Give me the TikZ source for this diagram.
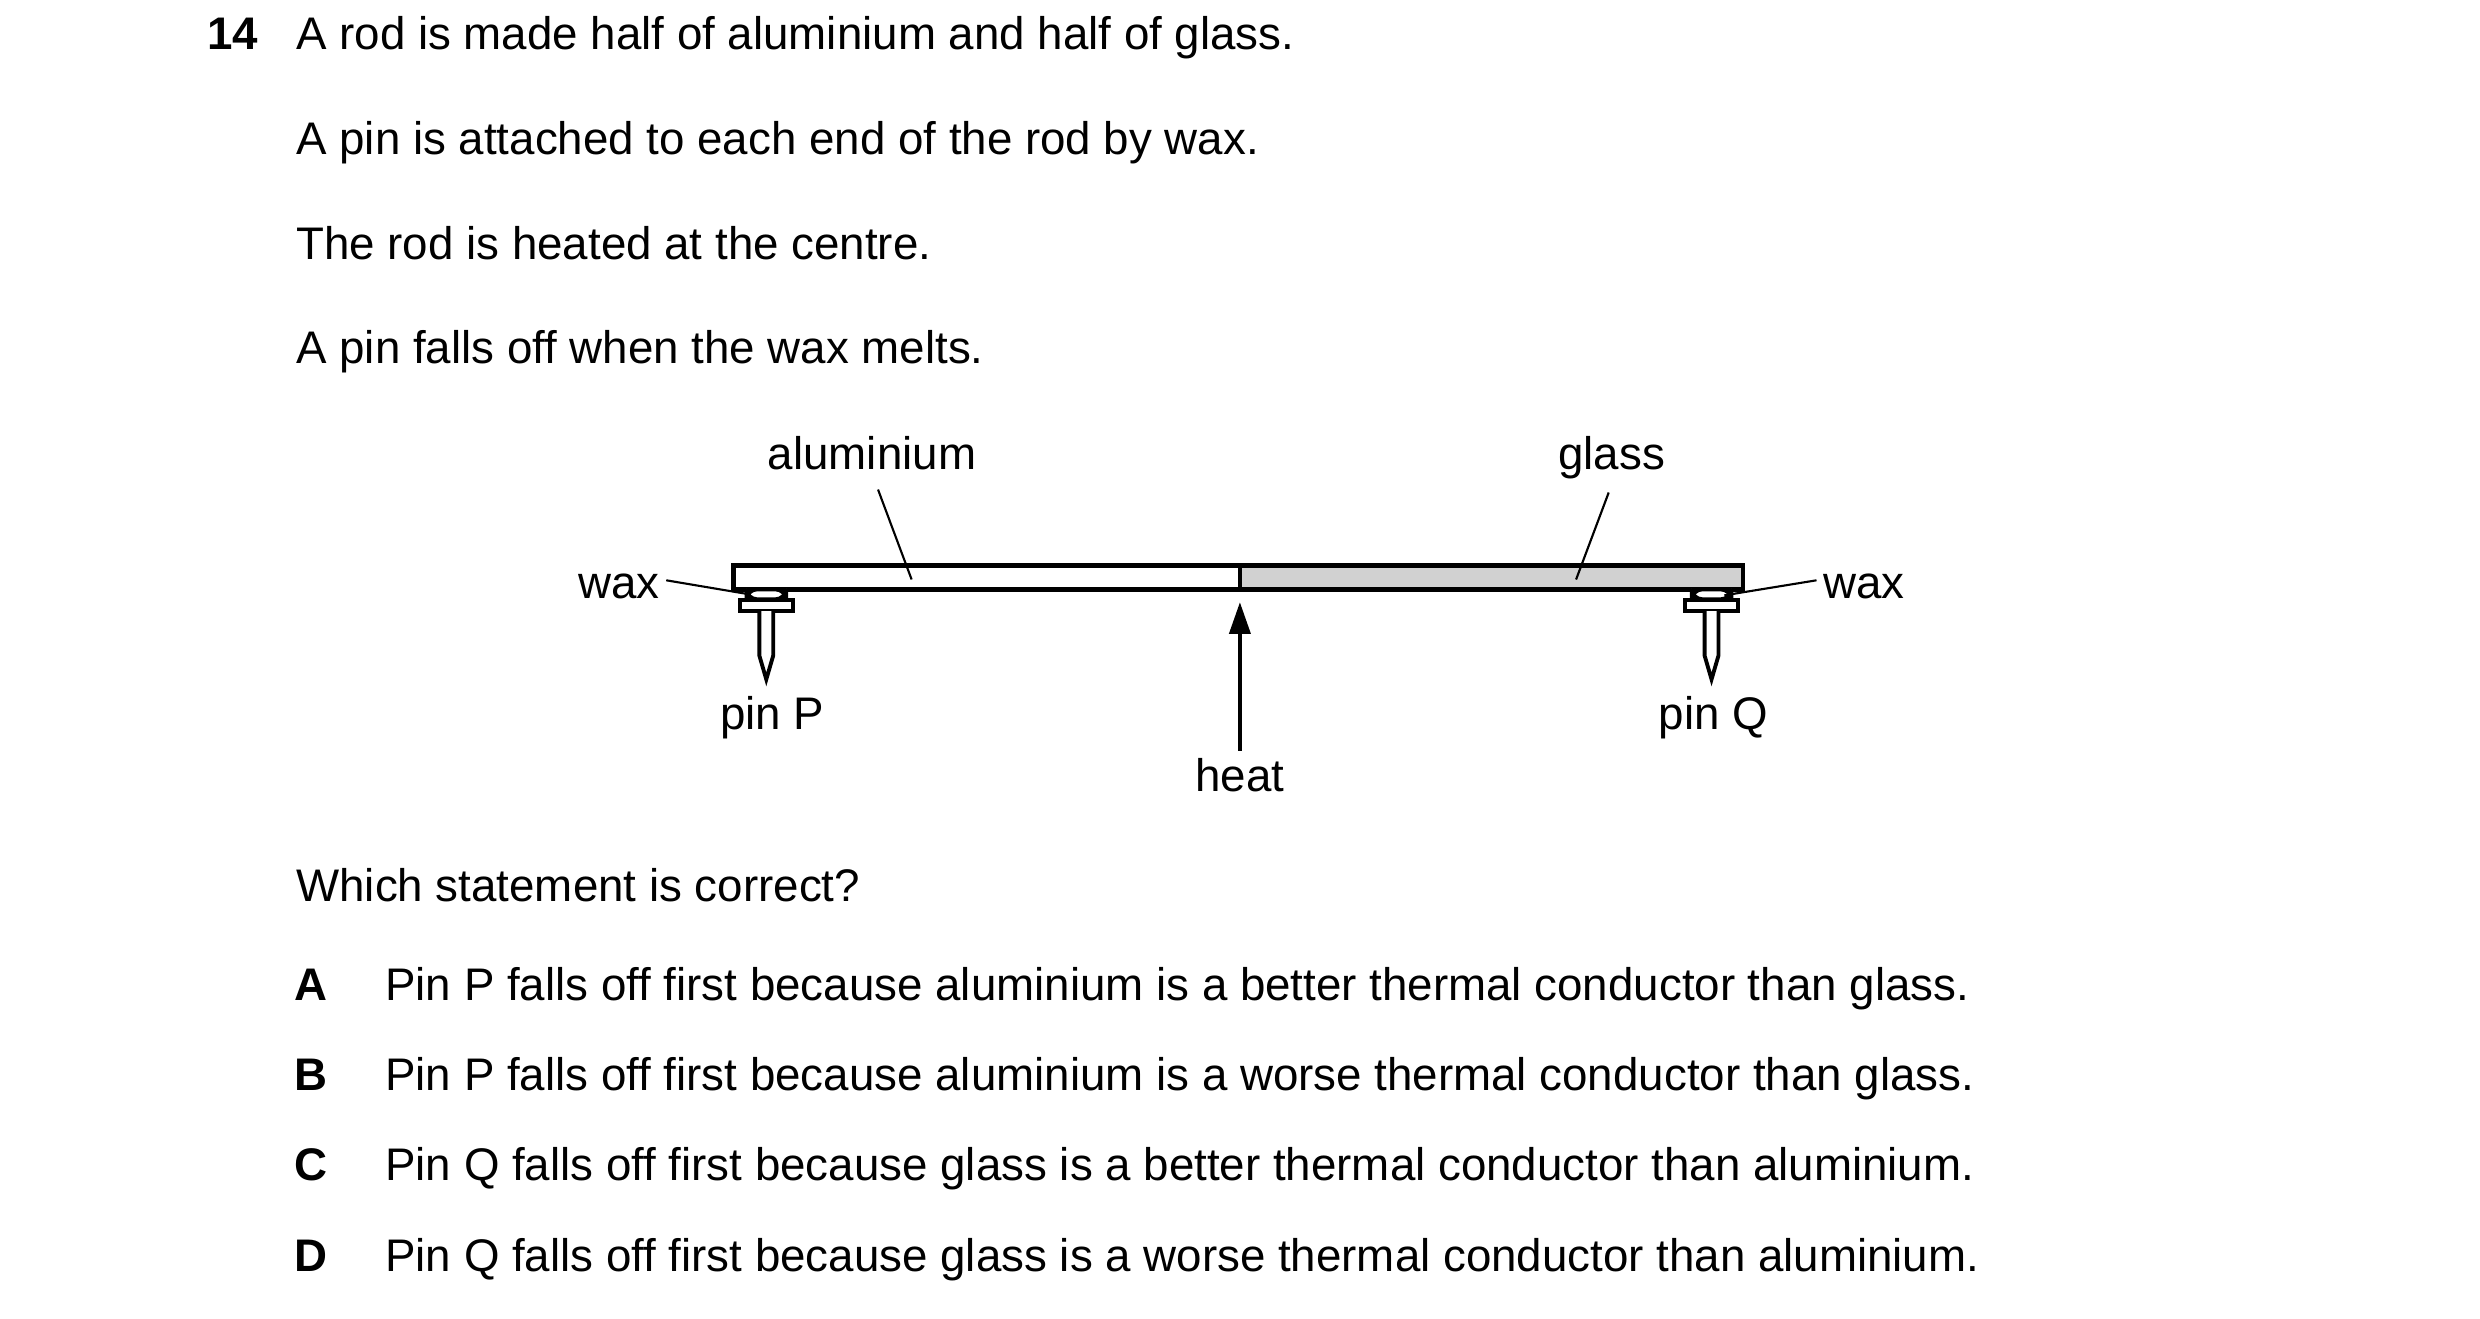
\documentclass[tikz,border=0pt]{standalone}
\usepackage{fontspec}
\setmainfont{Liberation Sans}
\usetikzlibrary{positioning, arrows.meta}

\tikzset{every picture/.style={/utils/exec={\fontsize{13}{15.6}\selectfont}}}

\begin{document}
\begin{tikzpicture} [
			x=0.00989cm, y=-0.00989cm,
			txt/.style={inner sep=0, anchor=base west},
			lbl/.style={inner sep=0, anchor=base},
			rod/.style={draw, line width=1.3pt},
			pin/.style={draw, line width=1.1pt, fill=white},
			lead/.style={line width=0.6pt}
		]
			\useasboundingbox (0cm,0cm) rectangle (24.8cm,-13.18cm);
			\begin{scope}[yshift=-0.07cm]
			% question text
			\node [txt, font=\bfseries\fontsize{13}{15.6}\selectfont] (num) at (209,43) {14};
			\node [txt] (l1) at (299,43) {A rod is made half of aluminium and half of glass.};
			\node [txt] (l2) at (299,149) {A pin is attached to each end of the rod by wax.};
			\node [txt] (l3) at (299,255) {The rod is heated at the centre.};
			\node [txt] (l4) at (299,361) {A pin falls off when the wax melts.};
			% rod
			\draw [rod, fill=white] (742,565) rectangle (1254,589);
			\draw [rod, fill=black!18] (1254,565) rectangle (1763,589);
			% pins
			\foreach \px in {775, 1731} {
				\draw [pin, rounded corners=3pt] (\px-20,589) rectangle (\px+20,599);
				\draw [pin] (\px-27,600) rectangle (\px+27,611);
				\draw [pin] (\px-7,611) -- (\px-7,656) -- (\px,680) -- (\px+7,656) -- (\px+7,611);
			}
			% labels
			\node [lbl] (alu) at (882,468) {aluminium};
			\node [lbl] (gls) at (1630,468) {glass};
			\node [lbl] (waxL) at (626,598) {wax};
			\node [lbl] (waxR) at (1885,598) {wax};
			\node [lbl] (pinP) at (781,731) {pin P};
			\node [lbl] (pinQ) at (1733,731) {pin Q};
			\node [lbl] (heat) at (1254,793) {heat};
			\coordinate (aluEnd) at (922,579);
			\coordinate (glsEnd) at (1594,579);
			\coordinate (waxPend) at (758,594);
			\coordinate (waxQend) at (1744,595);
			\coordinate (heatTop) at (1254,602);
			\draw [lead] (888,488) -- (aluEnd);
			\draw [lead] (1627,491) -- (glsEnd);
			\draw [lead] (waxL.east) ++(6,-6) -- (waxPend);
			\draw [lead] (waxR.west) ++(-6,-6) -- (waxQend);
			\draw [line width=1pt, -{Triangle[length=9pt, width=6pt]}] (1254,752) -- (heatTop);
			% options
			\node [txt] (q) at (299,905) {Which statement is correct?};
			\foreach \y/\L/\T in {1005/A/Pin P falls off first because aluminium is a better thermal conductor than glass.,
				1096/B/Pin P falls off first because aluminium is a worse thermal conductor than glass.,
				1187/C/Pin Q falls off first because glass is a better thermal conductor than aluminium.,
				1279/D/Pin Q falls off first because glass is a worse thermal conductor than aluminium.} {
				\node [lbl, font=\bfseries\fontsize{13}{15.6}\selectfont] at (315,\y) {\L};
				\node [txt] at (389,\y) {\T};
			}
			\end{scope}
		\end{tikzpicture}
\end{document}
